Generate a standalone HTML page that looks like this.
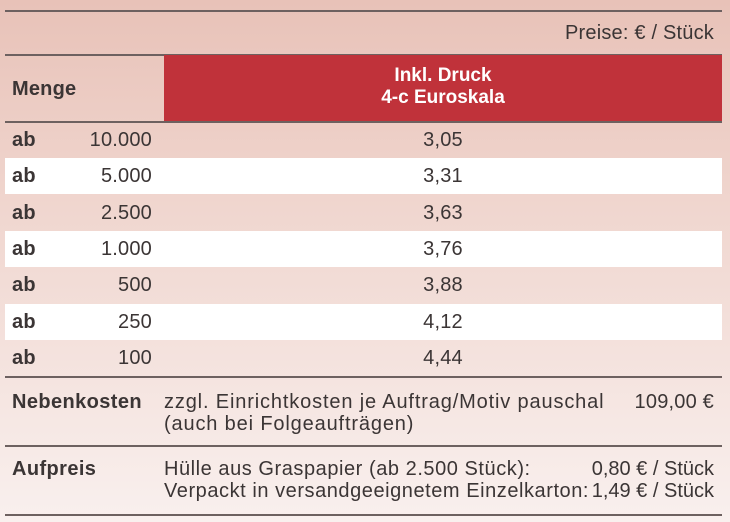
<!DOCTYPE html>
<html><head><meta charset="utf-8"><style>
body{margin:0;width:730px;height:522px;overflow:hidden;font-family:"Liberation Sans",sans-serif;color:#3b3535;}
#t{position:relative;width:730px;height:522px;background:linear-gradient(#e8c2b8,#f0d6cf 40%,#f9f0ee);}
.l{position:absolute;left:5px;width:717px;height:2px;background:#6d6160;}
.x{position:absolute;font-size:20px;letter-spacing:0.2px;white-space:nowrap;line-height:22px;}
.b{font-weight:bold;}
.row{position:absolute;left:5px;width:717px;height:36px;}
.w{background:#fff;}
#hd{position:absolute;left:164px;top:55px;width:558px;height:66px;background:#c0323a;color:#fff;text-align:center;font-weight:bold;font-size:19px;line-height:22px;padding-top:10px;box-sizing:border-box;}
</style></head><body>
<div id="t">
<div class="l" style="top:10px"></div>
<div class="x" style="right:16px;top:22px">Preise: € / Stück</div>
<div class="l" style="top:54px"></div>
<div class="x b" style="left:12px;top:78px">Menge</div>
<div id="hd">Inkl. Druck<br>4-c Euroskala</div>
<div class="l" style="top:121px"></div>
<div id="rows"></div>
<div class="l" style="top:376px"></div>
<div class="x b" style="left:12px;top:391px;letter-spacing:0.4px">Nebenkosten</div>
<div class="x" style="left:164px;top:391px;letter-spacing:0.85px">zzgl. Einrichtkosten je Auftrag/Motiv pauschal<br>(auch bei Folgeaufträgen)</div>
<div class="x" style="right:16px;top:391px">109,00 €</div>
<div class="l" style="top:445px"></div>
<div class="x b" style="left:12px;top:458px;letter-spacing:0.4px">Aufpreis</div>
<div class="x" style="left:164px;top:458px;letter-spacing:0.55px">Hülle aus Graspapier (ab 2.500 Stück):<br>Verpackt in versandgeeignetem Einzelkarton:</div>
<div class="x" style="right:16px;top:458px;text-align:right;letter-spacing:0">0,80 € / Stück<br>1,49 € / Stück</div>
<div class="l" style="top:514px"></div>
</div>
<script>
const quantities=["10.000","5.000","2.500","1.000","500","250","100"];
const prices=["3,05","3,31","3,63","3,76","3,88","4,12","4,44"];
const rows=document.getElementById('rows');
quantities.forEach((q,i)=>{
 const top=122+i*36.3;
 const r=document.createElement('div');
 r.className='row'+(i%2?' w':'');
 r.style.top=top+'px';
 
 
 r.innerHTML='<div class="x b" style="left:7px;top:7px">ab</div><div class="x" style="right:570px;top:7px">'+q+'</div><div class="x" style="left:413px;top:7px;width:50px;text-align:center">'+prices[i]+'</div>';
 rows.appendChild(r);
});
</script>
</body></html>
